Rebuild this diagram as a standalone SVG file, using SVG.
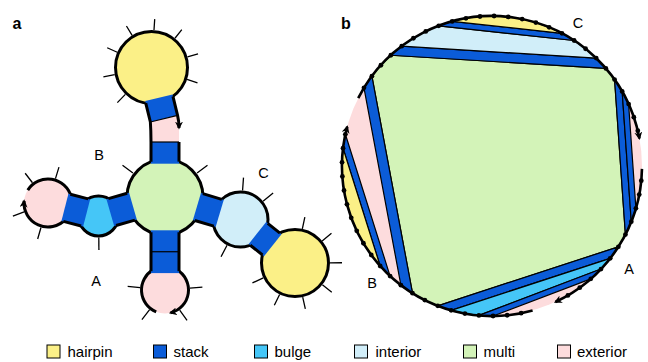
<svg xmlns="http://www.w3.org/2000/svg" width="648" height="362" viewBox="0 0 648 362">
<defs>
<style>
text { font-family: "Liberation Sans", Arial, sans-serif; fill: #000; }
.lab { font-size: 14.5px; text-anchor: middle; }
.pl { font-size: 16px; font-weight: bold; }
.leg { font-size: 15px; }
.hp { fill: #FBF087; }
.st { fill: #0B5CD8; }
.bu { fill: #45C6F7; }
.in { fill: #D1EEF9; }
.mu { fill: #D3F3B8; }
.ex { fill: #FDDCDD; }
.loop { stroke: #000; stroke-width: 3; }
.tick { stroke: #000; stroke-width: 1.3; fill: none; }
.bb { stroke: #000; stroke-width: 3; fill: none; }
.bp { stroke: #000; stroke-width: 1.2; fill: none; }
.reg { stroke: #000; stroke-width: 1.2; stroke-linejoin: round; }
.bk { stroke: #000; stroke-width: 2.6; fill: none; }
.sw { stroke: #000; stroke-width: 1; }
</style>
<marker id="ah" viewBox="0 0 10 10" refX="8" refY="5" markerWidth="8" markerHeight="8" markerUnits="userSpaceOnUse" orient="auto">
<path d="M0,0 L10,5 L0,10 L3,5 Z" fill="#000"/>
</marker>
</defs>

<text class="pl" x="12.5" y="28.5">a</text>
<text class="pl" x="341" y="28.5">b</text>

<!-- Panel a -->
<g id="a-exterior-top">
<path class="ex" d="M150.36 121.99L177.56 115.37C178.6 119.6 179 124 179 128L179 142L151 142C151 134 150.8 128 150.36 121.99Z"/>
</g>
<g id="a-hairpin-top">
<circle cx="151.5" cy="67.5" r="36" class="hp loop"/>
<path class="tick" d="M125.37 94.39L117.35 102.64M114.68 74.59L103.39 76.77M117.24 52.25L107.19 47.77M132.13 35.39L126.45 25.97M153.99 30.08L154.71 19.11M174.95 38.23L181.82 29.65M187.47 56.91L198.03 53.81M187.06 79.4L197.49 82.89"/>
</g>
<g id="a-multi">
<circle cx="165" cy="197" r="38" class="mu loop"/>
<path class="tick" d="M197.07 173.09L207.49 165.33M132.93 173.09L122.51 165.33"/>
</g>
<g id="a-interior">
<circle cx="240.5" cy="219.5" r="27.5" class="in loop"/>
<path class="tick" d="M242.57 190.57L243.5 177.61M263.04 201.25L273.14 193.07M227.06 245.2L221.04 256.72"/>
</g>
<g id="a-hairpin-right">
<circle cx="295" cy="263" r="33.5" class="hp loop"/>
<path class="tick" d="M302.34 228.78L304.85 217.04M322.16 240.93L331.47 233.36M330 262.82L342 262.75M322.39 284.79L331.78 292.26M302.7 297.14L305.33 308.85M279.6 294.43L274.32 305.21M263.3 277.85L252.44 282.94"/>
</g>
<g id="a-bulge">
<circle cx="98.5" cy="216" r="20" class="bu loop"/>
<path class="tick" d="M98.8 237.5L98.9 250"/>
</g>
<g id="a-exterior-left">
<circle cx="48" cy="203" r="24" class="ex"/>
<path class="bb" d="M27.78 190.07A24 24 0 0 1 71.18 196.79"/>
<path class="bb" d="M65.55 219.37A24 24 0 0 1 24.09 200.91" marker-end="url(#ah)"/>
<path class="tick" d="M40.97 227.51L37.66 239.05M24.12 211.93L12.88 216.13M32.48 182.77L25.17 173.25M55.46 178.61L58.96 167.14"/>
</g>
<g id="a-exterior-bottom">
<circle cx="165" cy="290" r="23.5" class="ex"/>
<path class="bb" d="M176.75 269.65A23.5 23.5 0 0 1 170.49 312.85" marker-end="url(#ah)"/>
<path class="bb" d="M156.2 311.79A23.5 23.5 0 0 1 153.25 269.65"/>
<path class="tick" d="M140.12 287.6L127.67 286.41M189.92 288.04L202.38 287.06M149.61 309.7L141.91 319.55M179.69 310.23L187.04 320.34"/>
</g>

<g id="a-stack-top-hairpin">
<path class="st" d="M145.27 101.09L172.47 94.47L177.56 115.37L150.36 121.99Z"/>
<path class="bp" d="M150.36 121.99L177.56 115.37"/>
</g>
<g id="a-stack-top-multi">
<rect class="st" x="151" y="142" width="28" height="21.7"/>
<path class="bp" d="M151 142L179 142"/>
</g>
<g id="a-stack-bottom">
<rect class="st" x="151" y="230.3" width="28" height="42.8"/>
<path class="bp" d="M151 251.73L179 251.73"/>
</g>
<g id="a-stack-multi-interior">
<path class="st" d="M200.94 193.1L223.73 199.89L215.73 226.73L192.94 219.94Z"/>
</g>
<g id="a-stack-interior-hairpin">
<path class="st" d="M266.17 222.08L281.51 234.33L264.05 256.21L248.71 243.96Z"/>
</g>
<g id="a-stack-multi-bulge">
<path class="st" d="M129.1 192.7L106.46 199.17L114.16 226.09L136.8 219.62Z"/>
</g>
<g id="a-stack-bulge-exterior">
<path class="st" d="M90.1 199.38L68.43 193.8L61.45 220.92L83.12 226.5Z"/>
</g>

<g id="a-connectors">
<path class="bb" d="M202.86 193.67L221.81 199.32M194.86 220.51L213.81 226.16"/>
<path class="bb" d="M267.73 223.33L279.95 233.08M250.27 245.21L262.49 254.96"/>
<path class="bb" d="M127.18 193.25L108.38 198.62M134.88 220.17L116.08 225.54"/>
<path class="bb" d="M88.16 198.88L70.36 194.3M81.18 226L63.38 221.42"/>
<path class="bb" d="M151 232.33L151 271.13M179 232.33L179 271.13"/>
<path class="bb" d="M145.75 103.04L150.36 121.99C150.8 128 151 134 151 142L151 161.67"/>
<path class="bb" d="M172.95 96.42L177.56 115.37C178.6 119.6 179 124 179 128" marker-end="url(#ah)"/>
<path class="bb" d="M179 142L179 161.67"/>
</g>

<text class="lab" x="99" y="160.3">B</text>
<text class="lab" x="96" y="285.8">A</text>
<text class="lab" x="263.5" y="177.8">C</text>

<!-- Panel b -->
<g id="b-regions">
<circle cx="492" cy="166" r="150" class="ex"/>
<path id="b-multi" class="mu reg" d="M371.89 76.15A150 150 0 0 1 390.85 55.23L605.89 68.38A150 150 0 0 1 614.57 79.54L625.41 234.57A150 150 0 0 1 618.37 246.82L437.76 305.85A150 150 0 0 1 412.51 293.21Z"/>
<path id="b-stack-left" class="st reg" d="M363.97 87.85A150 150 0 0 1 371.89 76.15L412.51 293.21A150 150 0 0 1 400.89 285.16Z"/>
<path id="b-stack-top1" class="st reg" d="M390.85 55.23A150 150 0 0 1 401.73 46.2L596.2 58.1A150 150 0 0 1 605.89 68.38Z"/>
<path id="b-interior" class="in reg" d="M401.73 46.2A150 150 0 0 1 438.73 25.78L574.13 40.49A150 150 0 0 1 596.2 58.1Z"/>
<path id="b-stack-top2" class="st reg" d="M438.73 25.78A150 150 0 0 1 452.17 21.38L561.96 33.31A150 150 0 0 1 574.13 40.49Z"/>
<path id="b-hairpin-top" class="hp reg" d="M452.17 21.38A150 150 0 0 1 561.96 33.31Z"/>
<path id="b-stack-right1" class="st reg" d="M614.57 79.54A150 150 0 0 1 622.17 91.45L631.27 221.71A150 150 0 0 1 625.41 234.57Z"/>
<path id="b-stack-right2" class="st reg" d="M622.17 91.45A150 150 0 0 1 628.6 104.04L635.9 208.35A150 150 0 0 1 631.27 221.71Z"/>
<path id="b-stack-bottom1" class="st reg" d="M618.37 246.82A150 150 0 0 1 610.2 258.35L451.16 310.33A150 150 0 0 1 437.76 305.85Z"/>
<path id="b-bulge" class="bu reg" d="M610.2 258.35A150 150 0 0 1 600.99 269.06L478.93 315.43A150 150 0 0 1 451.16 310.33Z"/>
<path id="b-stack-bottom2" class="st reg" d="M600.99 269.06A150 150 0 0 1 590.8 278.86L493.05 316A150 150 0 0 1 478.93 315.43Z"/>
<path id="b-stack-leftouter" class="st reg" d="M390.08 276.06A150 150 0 0 1 380.18 265.98L343.05 148.24A150 150 0 0 1 345.39 134.3Z"/>
<path id="b-hairpin-left" class="hp reg" d="M380.18 265.98A150 150 0 0 1 343.05 148.24Z"/>
</g>
<g id="b-backbone">
<path class="bk" d="M358.23 98.14A150 150 0 0 1 639.44 138.41" marker-end="url(#ah)"/>
<path class="bk" d="M641.97 168.88A150 150 0 0 1 555.39 301.95" marker-end="url(#ah)"/>
<path class="bk" d="M532.59 310.4A150 150 0 0 1 347.25 126.67" marker-end="url(#ah)"/>
</g>
<g id="b-nucleotides" fill="#000">
<circle cx="363.97" cy="87.85" r="2.4"/><circle cx="371.89" cy="76.15" r="2.4"/><circle cx="380.88" cy="65.24" r="2.4"/><circle cx="390.85" cy="55.23" r="2.4"/><circle cx="401.73" cy="46.2" r="2.4"/><circle cx="413.4" cy="38.24" r="2.4"/><circle cx="425.77" cy="31.41" r="2.4"/><circle cx="438.73" cy="25.78" r="2.4"/><circle cx="452.17" cy="21.38" r="2.4"/><circle cx="465.95" cy="18.28" r="2.4"/><circle cx="479.97" cy="16.48" r="2.4"/><circle cx="494.09" cy="16.01" r="2.4"/><circle cx="508.2" cy="16.88" r="2.4"/><circle cx="522.16" cy="19.06" r="2.4"/><circle cx="535.86" cy="22.55" r="2.4"/><circle cx="549.16" cy="27.32" r="2.4"/><circle cx="561.96" cy="33.31" r="2.4"/><circle cx="574.13" cy="40.49" r="2.4"/><circle cx="585.58" cy="48.77" r="2.4"/><circle cx="596.2" cy="58.1" r="2.4"/><circle cx="605.89" cy="68.38" r="2.4"/><circle cx="614.57" cy="79.54" r="2.4"/><circle cx="622.17" cy="91.45" r="2.4"/><circle cx="628.6" cy="104.04" r="2.4"/><circle cx="633.83" cy="117.16" r="2.4"/><circle cx="637.79" cy="130.73" r="2.4"/>
<circle cx="641.28" cy="180.64" r="2.4"/><circle cx="639.24" cy="194.62" r="2.4"/><circle cx="635.9" cy="208.35" r="2.4"/><circle cx="631.27" cy="221.71" r="2.4"/><circle cx="625.41" cy="234.57" r="2.4"/><circle cx="618.37" cy="246.82" r="2.4"/><circle cx="610.2" cy="258.35" r="2.4"/><circle cx="600.99" cy="269.06" r="2.4"/><circle cx="590.8" cy="278.86" r="2.4"/><circle cx="579.74" cy="287.66" r="2.4"/><circle cx="567.9" cy="295.38" r="2.4"/>
<circle cx="521.13" cy="313.14" r="2.4"/><circle cx="507.16" cy="315.23" r="2.4"/><circle cx="493.05" cy="316" r="2.4"/><circle cx="478.93" cy="315.43" r="2.4"/><circle cx="464.92" cy="313.54" r="2.4"/><circle cx="451.16" cy="310.33" r="2.4"/><circle cx="437.76" cy="305.85" r="2.4"/><circle cx="424.84" cy="300.12" r="2.4"/><circle cx="412.51" cy="293.21" r="2.4"/><circle cx="400.89" cy="285.16" r="2.4"/><circle cx="390.08" cy="276.06" r="2.4"/><circle cx="380.18" cy="265.98" r="2.4"/><circle cx="371.26" cy="255.01" r="2.4"/><circle cx="363.42" cy="243.26" r="2.4"/><circle cx="356.73" cy="230.81" r="2.4"/><circle cx="351.23" cy="217.8" r="2.4"/><circle cx="346.98" cy="204.32" r="2.4"/><circle cx="344.01" cy="190.5" r="2.4"/><circle cx="342.37" cy="176.46" r="2.4"/><circle cx="342.05" cy="162.34" r="2.4"/><circle cx="343.05" cy="148.24" r="2.4"/><circle cx="345.39" cy="134.3" r="2.4"/>
</g>
<text class="lab" x="578" y="28.3">C</text>
<text class="lab" x="629" y="274.3">A</text>
<text class="lab" x="372" y="288.3">B</text>

<!-- Legend -->
<g id="legend">
<rect class="hp sw" x="47" y="345" width="13" height="13"/><text class="leg" x="67.5" y="357">hairpin</text>
<rect class="st sw" x="153.5" y="345" width="13" height="13"/><text class="leg" x="173.5" y="357">stack</text>
<rect class="bu sw" x="254.5" y="345" width="13" height="13"/><text class="leg" x="274.5" y="357">bulge</text>
<rect class="in sw" x="354.5" y="345" width="13" height="13"/><text class="leg" x="375.5" y="357">interior</text>
<rect class="mu sw" x="463.5" y="345" width="13" height="13"/><text class="leg" x="483.5" y="357">multi</text>
<rect class="ex sw" x="557.5" y="345" width="13" height="13"/><text class="leg" x="577" y="357">exterior</text>
</g>
</svg>
